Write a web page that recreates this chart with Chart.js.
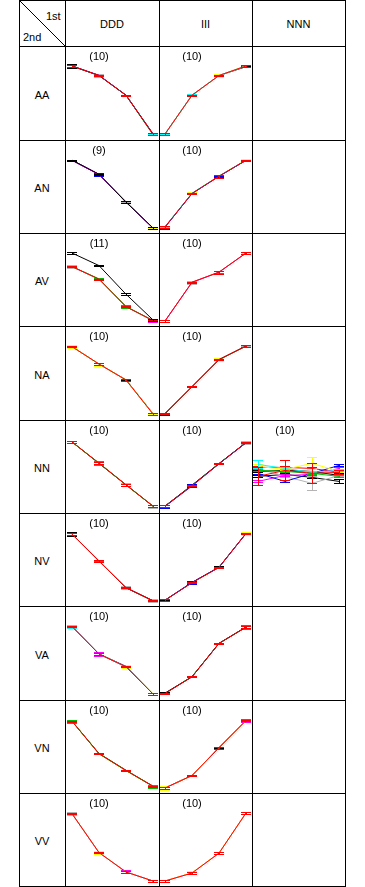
<!DOCTYPE html>
<html>
<head>
<meta charset="utf-8">
<script src="https://cdn.jsdelivr.net/npm/chart.js@4.4.1/dist/chart.umd.min.js"></script>
<style>
  body { margin: 0; background: #fff; font-family: "Liberation Sans", Arial, sans-serif; font-size: 11px; }
  #grid { position: relative; width: 365px; height: 887px; }
  .line { position: absolute; background: #000; z-index: 2; }
  .txt { position: absolute; text-align: center; color: #000; }
  canvas { position: absolute; }
</style>
</head>
<body>
<div id="grid"></div>
<script>
const RED = "#ff0000", BLACK = "#000000", MAGENTA = "#ff00ff", GREY = "#b4b4b4",
  CYAN = "#00ffff", GREEN = "#00c000", YELLOW = "#ffff00", BLUE = "#0000ff";

// table labels
const rowNames = ["AA", "AN", "AV", "NA", "NN", "NV", "VA", "VN", "VV"];
const colNames = ["DDD", "III", "NNN"];
const steps = ["1", "2", "3", "4"];
const SMALL_ERR = [1, 1, 1, 1];

// series per cell: [colour, values, optional errors]
const AA_DDD = [
  [RED, [100, 86, 57, 0]],
  [BLACK, [100, 86, 57, 0], [2.4, 1, 1, 1]],
  [MAGENTA, [100, 86.5, 57, 0]],
  [GREY, [100, 86, 57, 0], [1, 2.2, 1, 1]],
  [CYAN, [100, 86, 57, 0.9]],
  [GREEN, [100, 86, 57, -1.2]],
];
const AA_III = [
  [RED, [0, 57, 86, 100]],
  [GREY, [0, 57, 86, 100], [2.2, 1, 1, 1]],
  [CYAN, [0.4, 57.3, 86, 100]],
  [YELLOW, [0, 57, 86, 100.6], [1, 1, 2.2, 1.5]],
  [BLACK, [0, 57, 86, 99]],
];
const AN_DDD = [
  [BLACK, [99.7, 79, 38, 0]],
  [MAGENTA, [99.4, 78.6, 38.4, 0]],
  [BLUE, [99.7, 78.6, 38, 0], [1, 2.4, 1, 1]],
  [RED, [99.7, 79, 38, 0], [1, 1, 1.8, 1]],
  [GREY, [99.7, 79, 39.2, 0]],
  [YELLOW, [99.7, 79, 37.6, 0.5]],
];
const AN_III = [
  [RED, [1.6, 50.7, 76, 99.7], [1, 1, 2.5, 1]],
  [BLUE, [1.2, 50.7, 76, 99.7], [2.2, 1, 1, 1]],
  [CYAN, [2, 51.2, 76.2, 99.7]],
  [YELLOW, [1.6, 51.3, 76.6, 100.3]],
  [BLACK, [1.6, 50.7, 76.4, 99.4]],
];
const AV_DDD = [
  [BLACK, [100, 81.5, 39.4, 1.6], [1, 1, 1.5, 1]],
  [RED, [80, 61.5, 21, 0.6]],
  [GREEN, [80, 62, 21.6, 0.6], [1, 1, 2, 1]],
  [GREY, [80, 61.5, 21, 0.6], [2.4, 1, 1, 1]],
  [MAGENTA, [80, 61.5, 21, 0.6], [1, 1, 1, 2.2]],
];
const AV_III = [
  [RED, [0, 57, 71.8, 100], [1, 1, 2, 1]],
  [MAGENTA, [0, 57, 71.8, 100], [2.2, 1, 1, 1]],
  [GREY, [0, 56.6, 71.8, 100], [1, 2, 1, 1]],
  [YELLOW, [0, 57, 72.3, 99.7]],
];
const NA_DDD = [
  [RED, [99, 73.5, 50, 0], [1, 1, 1, 1.5]],
  [YELLOW, [99, 73.5, 50, 0.4], [2, 2.2, 1, 1]],
  [GREY, [99, 73.5, 50, 0], [1, 1, 2.2, 1]],
  [BLACK, [99, 73.5, 50.3, 0.6]],
];
const NA_III = [
  [RED, [1, 40, 80, 100]],
  [BLACK, [0.4, 40.3, 80, 100], [1.6, 1, 1, 2.2]],
  [GREY, [1, 40.5, 80, 99.6]],
  [YELLOW, [1, 40, 80, 100], [1, 1, 2.2, 1]],
];
const NN_DDD = [
  [RED, [97, 66, 34, 2.8]],
  [GREEN, [97, 66, 34, 2.8], [1, 2.4, 1, 1]],
  [BLACK, [97.3, 65.5, 34, 2.6], [1.6, 1.6, 1, 1.6]],
  [GREY, [97, 66, 34.5, 2.8], [1, 1, 2, 2.2]],
  [YELLOW, [96.8, 66.3, 33.7, 2.8]],
];
const NN_III = [
  [RED, [2.8, 33, 65, 96]],
  [BLUE, [2.4, 32.4, 65, 96], [2.2, 2.2, 1, 1]],
  [BLACK, [2.8, 33.6, 65.3, 96.3], [1, 2.4, 1, 1]],
  [GREEN, [2.8, 33.4, 65.5, 96]],
  [GREY, [2.8, 33, 65, 96], [1, 1, 1, 2.2]],
];
const NN_NNN = [
  [RED, [46.5, 55.3, 50.9, 52.4], [13.2, 14.7, 14.7, 2.9]],
  [CYAN, [64.1, 58.2, 52.4, 55.3], [5.9, 1.5, 1.5, 1.5]],
  [YELLOW, [61.2, 56.8, 65.6, 53.8], [2.9, 1.5, 8.8, 1.5]],
  [GREEN, [55.3, 53.8, 50.9, 46.5], [1.5, 1.5, 1.5, 1.5]],
  [BLACK, [53.8, 55.3, 53.8, 47.9], [1.5, 2.9, 2.9, 2.9]],
  [BLUE, [50.9, 39.1, 50.9, 62.6], [1.5, 1.5, 1.5, 1.5]],
  [MAGENTA, [39.1, 47.9, 49.4, 58.2], [1.5, 1.5, 1.5, 1.5]],
  [GREY, [58.2, 46.5, 36.2, 47.9], [1.5, 1.5, 10.3, 1.5]],
  [BLACK, [46.5, 49.4, 45, 39.1], [1.5, 1.5, 1.5, 2.9]],
  [RED, [59.7, 59.7, 58.2, 52.4], [1.5, 1.5, 1.5, 1.5]],
];
const NV_DDD = [
  [RED, [98.4, 58.7, 19.4, 0.3]],
  [BLACK, [98.4, 58.7, 19.4, 0.3], [2.4, 1, 1, 1]],
  [MAGENTA, [98.4, 59.2, 19.7, 0.3]],
  [YELLOW, [98.4, 58.3, 19.4, 0.3]],
  [GREY, [98.4, 58.7, 19.4, 0.3], [1, 1, 2.2, 2.2]],
];
const NV_III = [
  [RED, [1.3, 26.8, 49.4, 99.4]],
  [BLUE, [1.3, 27.4, 49.4, 99.4], [1, 2.6, 1, 1]],
  [BLACK, [1, 27.2, 49.8, 99.2]],
  [YELLOW, [1.3, 26.8, 49.4, 99.4], [1, 1, 1, 2.4]],
];
const VA_DDD = [
  [RED, [99.3, 58.7, 40, 0]],
  [CYAN, [99.3, 58.7, 40, 0], [2.4, 1, 1, 1]],
  [MAGENTA, [99.3, 58.7, 40, 0], [1, 2.4, 1, 1]],
  [BLACK, [99.3, 59, 40.6, 0]],
  [YELLOW, [99.3, 58.7, 40, 0.4], [1, 1, 2.4, 1.8]],
];
const VA_III = [
  [RED, [0.7, 25.3, 74.3, 98.4]],
  [BLACK, [1.4, 25.3, 74.6, 98.4], [1.6, 1, 1, 1]],
  [GREEN, [0.7, 25.8, 74.3, 98.4]],
  [MAGENTA, [0.7, 25.3, 74.3, 98.4], [1, 1, 1, 2.4]],
];
const VN_DDD = [
  [RED, [98.2, 50.3, 25.7, 2.6]],
  [GREEN, [98.2, 50.3, 25.7, 2.6], [2.4, 1, 1, 2.4]],
  [BLACK, [98.2, 50.8, 26.1, 2.6]],
  [YELLOW, [98.2, 50.3, 25.3, 2.8]],
];
const VN_III = [
  [RED, [0, 18.4, 59, 99.3]],
  [YELLOW, [0, 18.4, 59, 99.3], [2.4, 1, 1, 1]],
  [MAGENTA, [0, 18.4, 59, 99.3], [1.6, 1, 1, 2.2]],
  [BLACK, [0, 18.4, 59.5, 99.3]],
];
const VV_DDD = [
  [RED, [99, 41.8, 13.2, 0]],
  [GREY, [99, 41.8, 13.2, 0], [2.2, 1, 1, 1]],
  [YELLOW, [99, 42.3, 13.2, 0], [1, 2.2, 1, 1]],
  [MAGENTA, [99, 41.8, 13.5, 0], [1, 1, 2.2, 1]],
];
const VV_III = [
  [RED, [0, 11.8, 41, 100]],
  [YELLOW, [0, 12.3, 41.2, 100], [1, 2.2, 1, 1]],
  [MAGENTA, [0, 11.8, 41, 100], [1, 1, 1, 2.2]],
];

// [row, column, n, series]
const cells = [
  ["AA", "DDD", 10, AA_DDD], ["AA", "III", 10, AA_III],
  ["AN", "DDD", 9, AN_DDD], ["AN", "III", 10, AN_III],
  ["AV", "DDD", 11, AV_DDD], ["AV", "III", 10, AV_III],
  ["NA", "DDD", 10, NA_DDD], ["NA", "III", 10, NA_III],
  ["NN", "DDD", 10, NN_DDD], ["NN", "III", 10, NN_III], ["NN", "NNN", 10, NN_NNN],
  ["NV", "DDD", 10, NV_DDD], ["NV", "III", 10, NV_III],
  ["VA", "DDD", 10, VA_DDD], ["VA", "III", 10, VA_III],
  ["VN", "DDD", 10, VN_DDD], ["VN", "III", 10, VN_III],
  ["VV", "DDD", 10, VV_DDD], ["VV", "III", 10, VV_III],
];

// layout
const rowEdges = [0, 46, 140, 233, 326, 420, 513, 606, 700, 793, 886];
const colEdges = [19, 65, 159, 252, 345];

const grid = document.getElementById("grid");

function add(cls, css, text) {
  const el = document.createElement("div");
  el.className = cls;
  Object.assign(el.style, css);
  if (text) el.textContent = text;
  grid.appendChild(el);
  return el;
}

colEdges.forEach((x) => add("line", { left: x + "px", top: "0px", width: "1px", height: "887px" }));
rowEdges.forEach((y) => add("line", { left: "19px", top: y + "px", width: "327px", height: "1px" }));

colNames.forEach((name, i) => {
  const w = colEdges[i + 2] - colEdges[i + 1];
  add("txt", { left: colEdges[i + 1] + "px", top: "1px", width: w + "px", height: "46px", lineHeight: "46px" }, name);
});
rowNames.forEach((name, i) => {
  const h = rowEdges[i + 2] - rowEdges[i + 1];
  add("txt", { left: "19px", top: rowEdges[i + 1] + 2 + "px", width: "46px", height: h + "px", lineHeight: h + "px" }, name);
});

// corner cell
const svgNS = "http://www.w3.org/2000/svg";
const svg = document.createElementNS(svgNS, "svg");
svg.setAttribute("width", "47");
svg.setAttribute("height", "47");
svg.style.position = "absolute";
svg.style.left = "19px";
svg.style.top = "0px";
const diag = document.createElementNS(svgNS, "line");
diag.setAttribute("x1", "0.5");
diag.setAttribute("y1", "0.5");
diag.setAttribute("x2", "46.5");
diag.setAttribute("y2", "46.5");
diag.setAttribute("stroke", "#000");
diag.setAttribute("stroke-width", "1");
svg.appendChild(diag);
grid.appendChild(svg);
add("txt", { left: "46px", top: "10px", textAlign: "left" }, "1st");
add("txt", { left: "23px", top: "31px", textAlign: "left" }, "2nd");

const errorBars = {
  id: "errorBars",
  afterDatasetDraw(chart, args) {
    const ds = chart.data.datasets[args.index];
    const y = chart.scales.y;
    const ctx = chart.ctx;
    ctx.save();
    ctx.strokeStyle = ds.borderColor;
    ctx.lineWidth = 1;
    ctx.beginPath();
    args.meta.data.forEach((pt, i) => {
      const v = ds.data[i];
      const e = ds.err[i];
      const x = Math.round(pt.x);
      const top = Math.round(y.getPixelForValue(v + e)) + 0.5;
      const bot = Math.round(y.getPixelForValue(v - e)) + 0.5;
      ctx.moveTo(x + 0.5, top);
      ctx.lineTo(x + 0.5, bot);
      ctx.moveTo(x - 5, top);
      ctx.lineTo(x + 5, top);
      ctx.moveTo(x - 5, bot);
      ctx.lineTo(x + 5, bot);
    });
    ctx.stroke();
    ctx.restore();
  },
};

const countLabel = {
  id: "countLabel",
  afterDraw(chart, args, opts) {
    const ctx = chart.ctx;
    ctx.save();
    ctx.font = '11px "Liberation Sans", Arial, sans-serif';
    ctx.fillStyle = "#000";
    ctx.textAlign = "center";
    ctx.textBaseline = "middle";
    ctx.fillText(opts.text, chart.scales.x.getPixelForValue(1), 11);
    ctx.restore();
  },
};

cells.forEach(([rowName, colName, n, series]) => {
  const r = rowNames.indexOf(rowName);
  const c = colNames.indexOf(colName);
  const left = colEdges[c + 1];
  const top = rowEdges[r + 1];
  const w = colEdges[c + 2] - left;
  const h = rowEdges[r + 2] - top;
  const canvas = document.createElement("canvas");
  canvas.width = w;
  canvas.height = h;
  canvas.style.left = left + "px";
  canvas.style.top = top + "px";
  canvas.style.width = w + "px";
  canvas.style.height = h + "px";
  grid.appendChild(canvas);

  new Chart(canvas, {
    type: "line",
    data: {
      labels: steps,
      datasets: series.map(([color, values, err]) => ({
        data: values,
        err: err || SMALL_ERR,
        borderColor: color,
        backgroundColor: color,
        borderWidth: 1,
        pointRadius: 0,
        tension: 0,
        clip: false,
      })),
    },
    options: {
      responsive: false,
      animation: false,
      devicePixelRatio: 1,
      layout: { padding: { left: colName === "DDD" ? 7 : 6, right: 6, top: 20, bottom: h - 88 } },
      plugins: {
        legend: { display: false },
        tooltip: { enabled: false },
        countLabel: { text: "(" + n + ")" },
      },
      scales: {
        x: { display: false, offset: false },
        y: { display: false, min: 0, max: 100 },
      },
    },
    plugins: [errorBars, countLabel],
  });
});
</script>
</body>
</html>
